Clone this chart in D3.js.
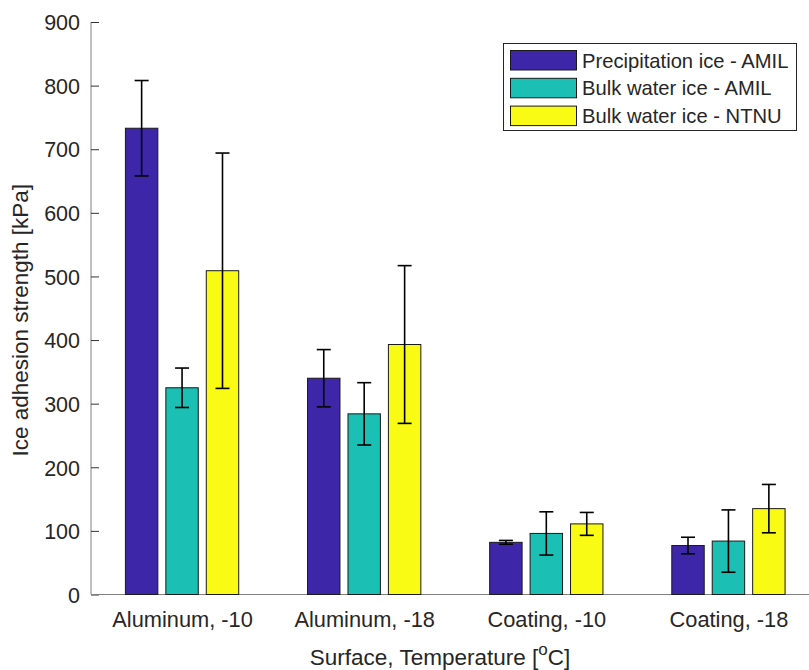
<!DOCTYPE html>
<html>
<head>
<meta charset="utf-8">
<script src="https://cdn.jsdelivr.net/npm/d3@7"></script>
<style>
  html, body { margin: 0; padding: 0; background: #fff; }
  svg { display: block; font-family: "Liberation Sans", Arial, Helvetica, sans-serif; }
</style>
</head>
<body>
<svg id="chart" width="809" height="670"></svg>
<script>
// Surfaces / temperatures on the x axis
const categories = ["Aluminum, -10", "Aluminum, -18", "Coating, -10", "Coating, -18"];

// Series names
const seriesNames = ["Precipitation ice - AMIL", "Bulk water ice - AMIL", "Bulk water ice - NTNU"];

// Mean ice adhesion strength [kPa]
const precipAmil = [733, 340, 82, 77];
const bulkAmil   = [325, 284, 96, 84];
const bulkNtnu   = [509, 393, 111, 135];

// Standard deviations [kPa]
const precipAmilErr = [75, 45, 3, 13];
const bulkAmilErr   = [31, 49, 34, 49];
const bulkNtnuErr   = [185, 124, 18, 38];

// Y tick values
const yTicks = [0, 100, 200, 300, 400, 500, 600, 700, 800, 900];

const colors = ["#3e26a8", "#1bbfb3", "#f9fb15"];

const series = [
  { name: seriesNames[0], values: precipAmil, errors: precipAmilErr },
  { name: seriesNames[1], values: bulkAmil,   errors: bulkAmilErr },
  { name: seriesNames[2], values: bulkNtnu,   errors: bulkNtnuErr }
];

const svg = d3.select("#chart");
const plotLeft = 91, plotRight = 819.5, plotTop = 22, plotBottom = 594.5;

// Numeric x positions 1..4 with half-unit padding, like a MATLAB bar plot
const x = d3.scaleLinear().domain([0.5, categories.length + 0.5]).range([plotLeft, plotRight]);
const y = d3.scaleLinear().domain([0, 900]).range([plotBottom, plotTop]);

const barW = 0.178;     // in x units
const offset = 0.222;   // spacing between bars of a group

const axisColor = "#808080";
const textColor = "#262626";

// Y axis with inward ticks
const yAxis = svg.append("g")
  .attr("transform", `translate(${plotLeft},0)`)
  .call(d3.axisRight(y).tickValues(yTicks).tickSize(8).tickFormat(d3.format("d")));
yAxis.attr("font-family", null);
yAxis.select(".domain").attr("stroke", axisColor).attr("d", `M0,${plotTop}V${plotBottom}`);
yAxis.selectAll(".tick line").attr("stroke", "#333");
yAxis.selectAll(".tick text")
  .attr("x", -11).attr("text-anchor", "end")
  .attr("dy", "0.36em")
  .attr("fill", textColor)
  .style("font-size", "21.5px");

// X axis
const xAxis = svg.append("g")
  .attr("transform", `translate(0,${plotBottom})`)
  .call(d3.axisBottom(x).tickValues(d3.range(1, categories.length + 1))
    .tickSize(0).tickFormat(d => categories[d - 1]));
xAxis.attr("font-family", null);
xAxis.select(".domain").attr("stroke", axisColor).attr("d", `M${plotLeft},0H${plotRight}`);
xAxis.selectAll(".tick text")
  .attr("y", 32).attr("dy", 0)
  .attr("fill", textColor)
  .style("font-size", "21.8px");

// Bars
series.forEach((s, si) => {
  const g = svg.append("g");
  g.selectAll("rect")
    .data(s.values)
    .join("rect")
    .attr("x", (d, i) => x(i + 1 + (si - 1) * offset - barW / 2))
    .attr("width", x(barW) - x(0))
    .attr("y", d => y(d))
    .attr("height", d => y(0) - y(d))
    .attr("fill", colors[si])
    .attr("stroke", "#1a1a1a")
    .attr("stroke-width", 1);
});

// Error bars
const capHalf = 7;
series.forEach((s, si) => {
  const g = svg.append("g").attr("stroke", "#000").attr("stroke-width", 1.6).attr("fill", "none");
  s.values.forEach((v, i) => {
    const cx = x(i + 1 + (si - 1) * offset);
    const hi = y(v + s.errors[i]);
    const lo = y(v - s.errors[i]);
    g.append("line").attr("x1", cx).attr("x2", cx).attr("y1", hi).attr("y2", lo);
    g.append("line").attr("x1", cx - capHalf).attr("x2", cx + capHalf).attr("y1", hi).attr("y2", hi);
    g.append("line").attr("x1", cx - capHalf).attr("x2", cx + capHalf).attr("y1", lo).attr("y2", lo);
  });
});

// Axis titles
svg.append("text")
  .attr("transform", `translate(28,${(plotTop + plotBottom) / 2 + 12}) rotate(-90)`)
  .attr("text-anchor", "middle")
  .attr("fill", textColor)
  .style("font-size", "22.5px")
  .text("Ice adhesion strength [kPa]");

const xl = svg.append("text")
  .attr("x", 440)
  .attr("y", 665)
  .attr("text-anchor", "middle")
  .attr("fill", textColor)
  .style("font-size", "22.5px");
xl.append("tspan").text("Surface, Temperature [");
xl.append("tspan").attr("dy", -10).style("font-size", "17px").text("o");
xl.append("tspan").attr("dy", 10).text("C]");

// Legend
const legend = svg.append("g");
legend.append("rect")
  .attr("x", 503.5).attr("y", 43.5).attr("width", 293).attr("height", 87)
  .attr("fill", "#fff").attr("stroke", "#262626").attr("stroke-width", 1);
series.forEach((s, si) => {
  const ry = 50.5 + si * 27.8;
  legend.append("rect")
    .attr("x", 510.5).attr("y", ry).attr("width", 66).attr("height", 19.5)
    .attr("fill", colors[si]).attr("stroke", "#1a1a1a").attr("stroke-width", 1);
  legend.append("text")
    .attr("x", 582).attr("y", ry + 17)
    .attr("fill", textColor)
    .style("font-size", "20.2px")
    .text(s.name);
});
</script>
</body>
</html>
